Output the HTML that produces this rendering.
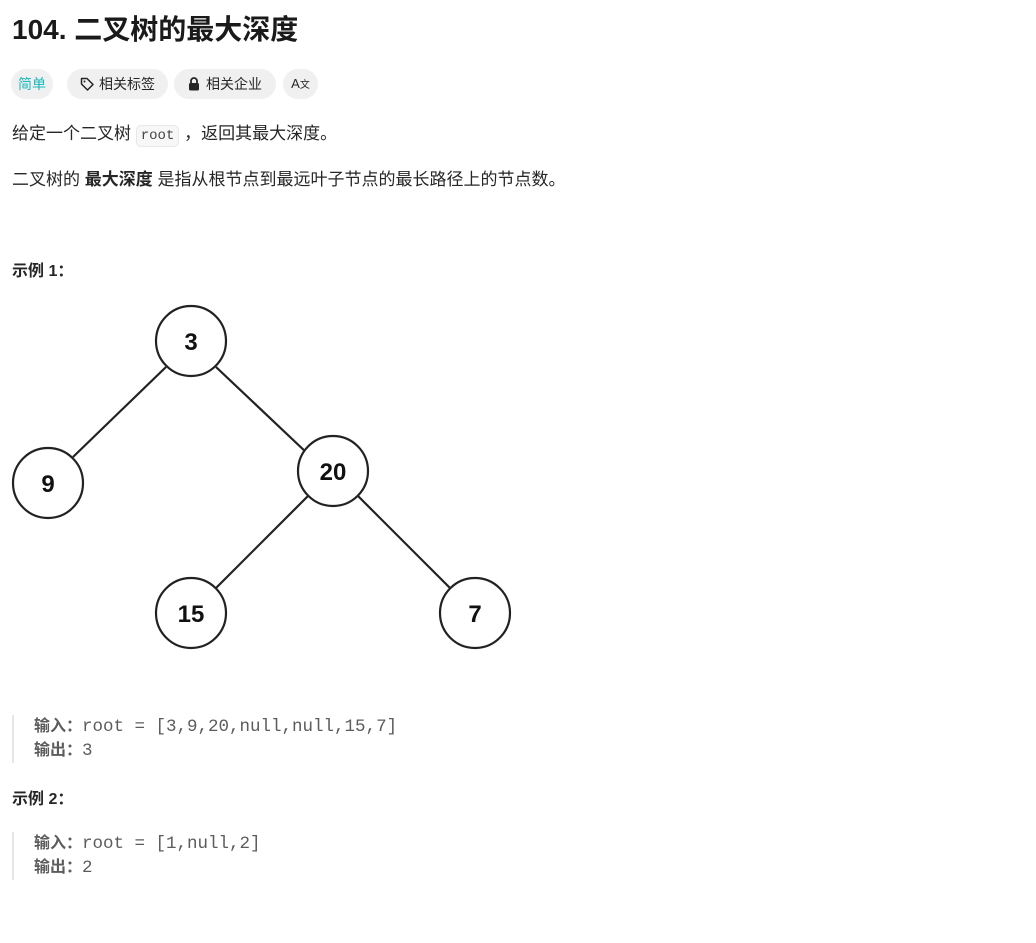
<!DOCTYPE html>
<html><head><meta charset="utf-8"><style>
body{margin:0;width:1036px;height:943px;background:#fff;font-family:"Liberation Sans","Noto Sans CJK SC",sans-serif;color:#262626;position:relative;overflow:hidden}
.a{position:absolute;white-space:nowrap}
.pill{position:absolute;top:69px;height:30px;border-radius:15px;background:#f0f0f0;font-size:14px;line-height:30px;text-align:center;color:#262626}
.code{position:absolute;left:12px;border-left:2px solid #e6e6e6;padding-left:20px;font-family:"Liberation Mono","Noto Sans CJK SC",monospace;font-size:17.5px;line-height:24px;color:#5c5c5c}
.code b{font-family:"Liberation Sans","Noto Sans CJK SC",sans-serif;font-size:16px}
code{font-family:"Liberation Mono",monospace;font-size:14px;background:#f7f7f7;border:1px solid #e8e8e8;border-radius:5px;padding:2px 4px;color:#444}
</style></head><body>
<div class="a" style="left:12px;top:12px;font-size:28px;font-weight:bold;line-height:36px;color:#1a1a1a">104. 二叉树的最大深度</div>
<div class="pill" style="left:11px;width:42px;color:#1cb8b8">简单</div>
<div class="pill" style="left:67px;width:101px"><svg width="14" height="14" viewBox="0 0 14 14" style="vertical-align:-2px;margin-right:5px"><path d="M1.5 1.5h5.5l6 6-5.5 5.5-6-6z" fill="none" stroke="#262626" stroke-width="1.5" stroke-linejoin="round"/><circle cx="4.5" cy="4.5" r="1" fill="#262626"/></svg>相关标签</div>
<div class="pill" style="left:174px;width:102px"><svg width="12" height="14" viewBox="0 0 12 14" style="vertical-align:-2px;margin-right:6px"><path d="M3 6V4a3 3 0 0 1 6 0v2" fill="none" stroke="#262626" stroke-width="1.8"/><rect x="1" y="6" width="10" height="7.5" rx="1.5" fill="#262626"/></svg>相关企业</div>
<div class="pill" style="left:283px;width:35px;font-size:13px">A<span style="font-size:10px">文</span></div>
<div class="a" style="left:12px;top:121px;font-size:17px;line-height:26px">给定一个二叉树 <code>root</code> ，返回其最大深度。</div>
<div class="a" style="left:12px;top:167px;font-size:17px;line-height:26px">二叉树的 <b>最大深度</b> 是指从根节点到最远叶子节点的最长路径上的节点数。</div>
<div class="a" style="left:12px;top:259px;font-size:16px;line-height:26px;font-weight:bold">示例 1：</div>
<svg class="a" style="left:0;top:290px" width="530" height="370" viewBox="0 290 530 370">
<g stroke="#222" stroke-width="2.2" fill="none">
<line x1="166" y1="367" x2="73" y2="457"/><line x1="216" y1="367" x2="308" y2="454"/>
<line x1="308" y1="496" x2="216" y2="588"/><line x1="358" y1="496" x2="450" y2="588"/>
</g>
<g stroke="#222" stroke-width="2.2" fill="#fff">
<circle cx="191" cy="341" r="35"/><circle cx="48" cy="483" r="35"/><circle cx="333" cy="471" r="35"/><circle cx="191" cy="613" r="35"/><circle cx="475" cy="613" r="35"/>
</g>
<g font-family="Liberation Sans" font-weight="bold" font-size="24" text-anchor="middle" fill="#111">
<text x="191" y="350">3</text><text x="48" y="492">9</text><text x="333" y="480">20</text><text x="191" y="622">15</text><text x="475" y="622">7</text>
</g></svg>
<div class="code" style="top:715px"><b>输入：</b>root = [3,9,20,null,null,15,7]<br><b>输出：</b>3</div>
<div class="a" style="left:12px;top:787px;font-size:16px;line-height:26px;font-weight:bold">示例 2：</div>
<div class="code" style="top:832px"><b>输入：</b>root = [1,null,2]<br><b>输出：</b>2</div>
</body></html>
